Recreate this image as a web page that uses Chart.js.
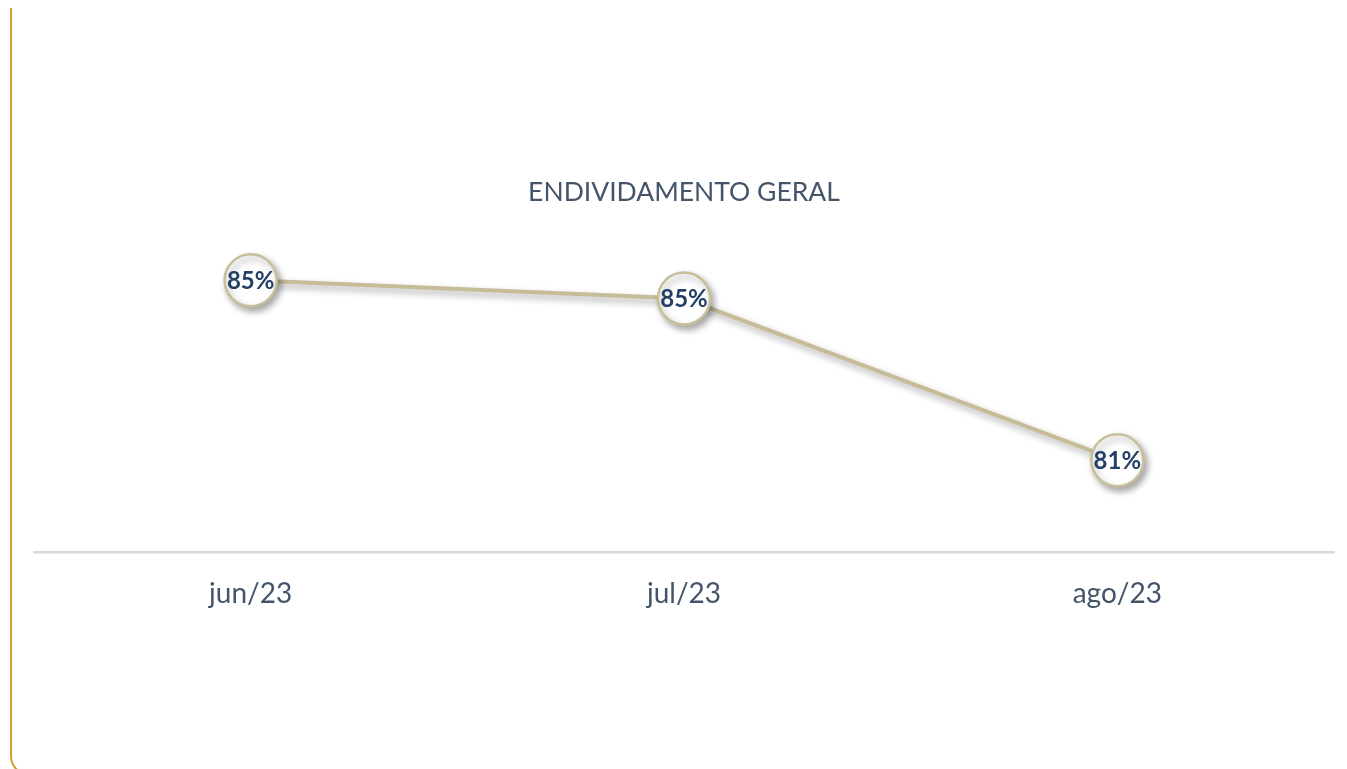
<!DOCTYPE html>
<html>
<head>
<meta charset="utf-8">
<script src="https://cdn.jsdelivr.net/npm/chart.js@4/dist/chart.umd.min.js"></script>
<style>
  html, body { margin: 0; padding: 0; background: #ffffff; overflow: hidden; }
  #wrap { position: relative; width: 1347px; height: 769px; }
  #frame { position: absolute; left: 10px; top: 8px; width: 2000px; height: 766px;
           border-left: 2px solid #C9A032; border-bottom: 2px solid #C9A032;
           border-bottom-left-radius: 20px; pointer-events: none; }
  canvas { position: absolute; left: 0; top: 0; }
</style>
</head>
<body>
<div id="wrap">
  <canvas id="c" width="1347" height="769"></canvas>
  <div id="frame"></div>
</div>
<script>
const categories = ['jun/23', 'jul/23', 'ago/23'];
const endividamento = [85.4, 84.95, 81.0];
const titleText = 'ENDIVIDAMENTO GERAL';

const shadowPlugin = {
  id: 'shadow',
  beforeDatasetDraw(chart) {
    const ctx = chart.ctx;
    ctx.save();
    ctx.shadowColor = 'rgba(0,0,0,0.35)';
    ctx.shadowBlur = 7;
    ctx.shadowOffsetX = 3;
    ctx.shadowOffsetY = 4;
  },
  afterDatasetDraw(chart) { chart.ctx.restore(); }
};

const labelPlugin = {
  id: 'pointLabels',
  afterDatasetsDraw(chart) {
    const ctx = chart.ctx;
    const meta = chart.getDatasetMeta(0);
    ctx.save();
    ctx.font = 'bold 24px Lato, "Open Sans", sans-serif';
    ctx.fillStyle = '#243F66';
    ctx.textAlign = 'center';
    ctx.textBaseline = 'middle';
    meta.data.forEach((pt, i) => {
      const v = chart.data.datasets[0].data[i];
      ctx.fillText(Math.round(v) + '%', pt.x, pt.y + 1);
    });
    ctx.restore();
  }
};

new Chart(document.getElementById('c'), {
  type: 'line',
  data: {
    labels: categories,
    datasets: [{
      data: endividamento,
      borderColor: '#C6BD97',
      borderWidth: 4,
      pointRadius: 26,
      pointHoverRadius: 26,
      pointBackgroundColor: '#ffffff',
      pointBorderColor: '#C8BF9A',
      pointBorderWidth: 2.5,
      tension: 0
    }]
  },
  options: {
    responsive: false,
    animation: false,
    events: [],
    layout: { autoPadding: false, padding: { left: 34, right: 13, top: 0, bottom: 133 } },
    plugins: {
      legend: { display: false },
      tooltip: { enabled: false },
      title: {
        display: true,
        fullSize: false,
        text: titleText,
        color: '#44546A',
        font: { family: 'Lato, "Open Sans", sans-serif', size: 26.5, weight: 'normal' },
        padding: { top: 177, bottom: 30 }
      }
    },
    scales: {
      x: {
        offset: true,
        grid: { display: false, drawTicks: false },
        border: { display: true, color: '#D9D9D9', width: 2.5 },
        ticks: { color: '#44546A', padding: 25,
                 font: { family: 'Lato, "Open Sans", sans-serif', size: 28 } }
      },
      y: {
        display: false,
        min: 78.75,
        max: 86.41
      }
    }
  },
  plugins: [shadowPlugin, labelPlugin]
});
</script>
</body>
</html>
